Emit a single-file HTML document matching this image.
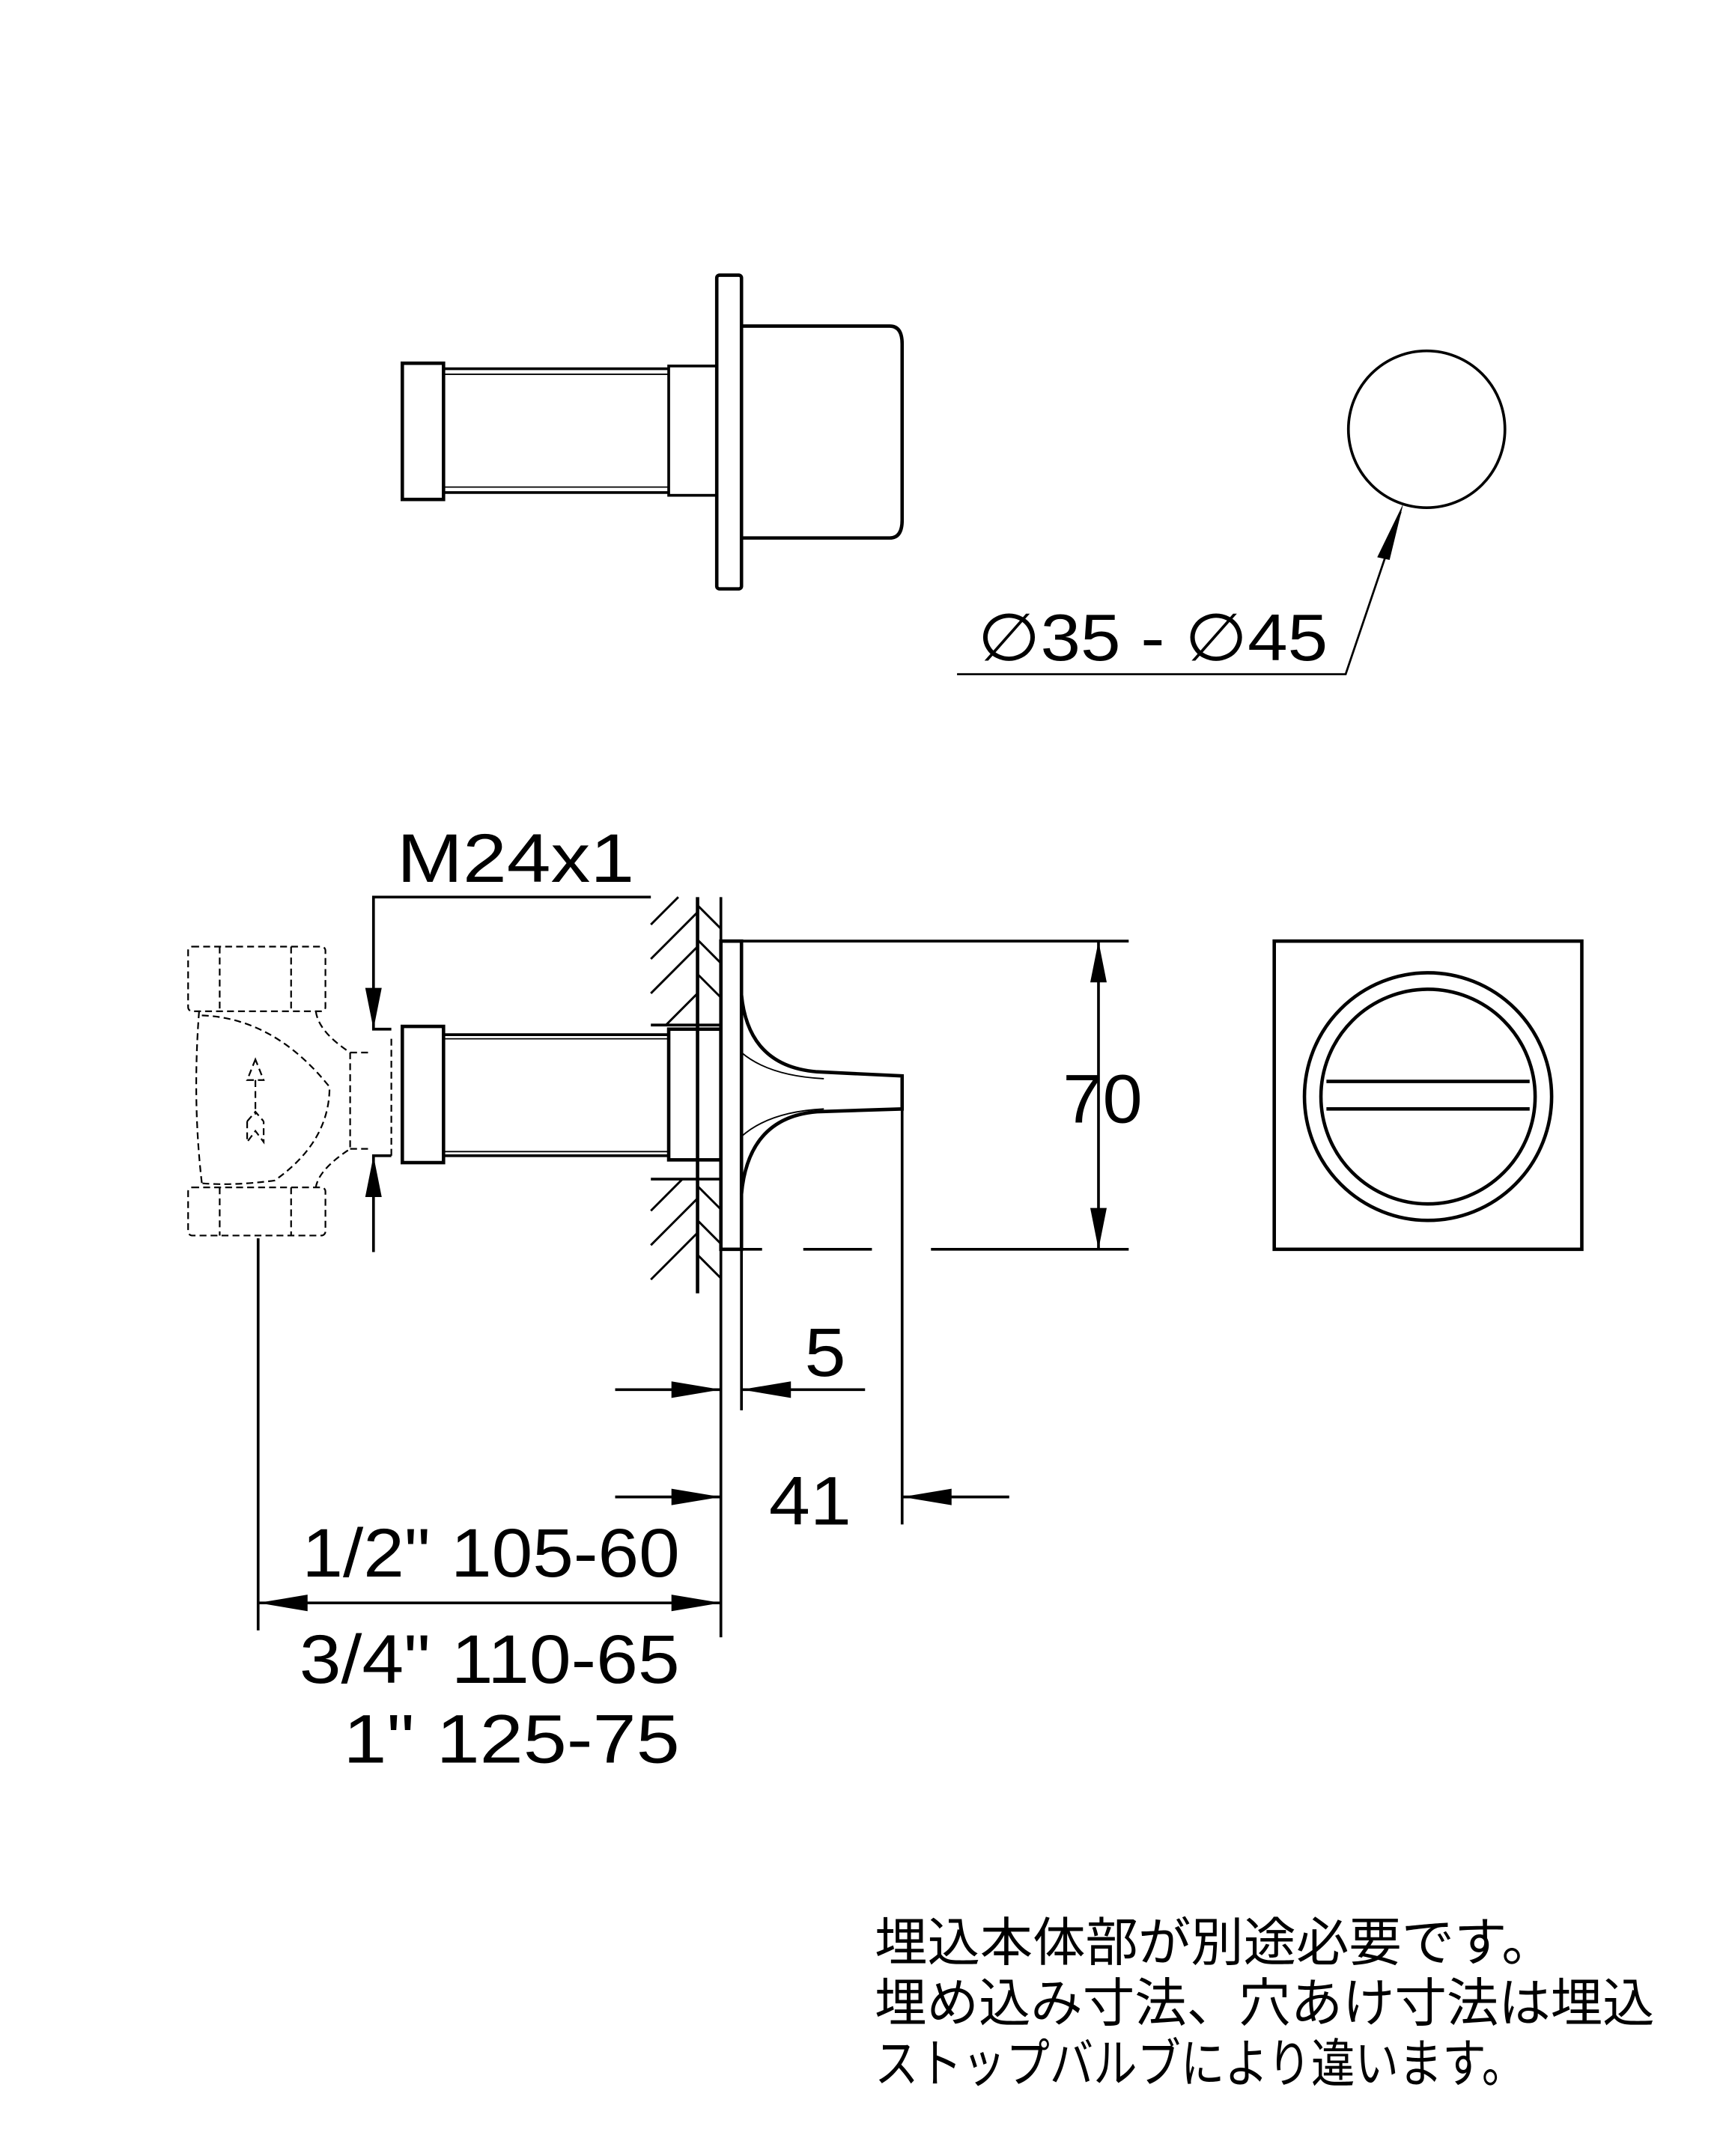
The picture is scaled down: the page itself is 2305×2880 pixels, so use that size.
<!DOCTYPE html>
<html><head><meta charset="utf-8"><style>html,body{margin:0;padding:0;background:#fff}svg{display:block}</style></head>
<body>
<svg width="2305" height="2880" viewBox="0 0 1257 1567" preserveAspectRatio="none" xmlns="http://www.w3.org/2000/svg" font-family="Liberation Sans, sans-serif">
<g fill="none" stroke="#000" stroke-width="2">
<rect x="293" y="264" width="30" height="99" stroke-width="2.5"/>
<line x1="323" y1="268" x2="487" y2="268"/><line x1="323" y1="272" x2="487" y2="272" stroke-width="1"/>
<line x1="323" y1="358" x2="487" y2="358"/><line x1="323" y1="354" x2="487" y2="354" stroke-width="1"/>
<rect x="487" y="266" width="35" height="94"/>
<rect x="522" y="200" width="18" height="228" rx="2" stroke-width="2.5"/>
<path d="M540 237 H648 Q657 237 657 250 V378 Q657 391 648 391 H540" stroke-width="2.5"/>
<circle cx="1039" cy="312" r="57"/>
<polyline points="1020,372 980,490 697,490" stroke-width="1.5"/>
</g>
<polygon points="1022,366 1003,405 1012,407" fill="#000"/>
<text x="712" y="480" font-size="48" textLength="255" lengthAdjust="spacingAndGlyphs">∅35 - ∅45</text>

<text x="289" y="641" font-size="50" textLength="173" lengthAdjust="spacingAndGlyphs">M24x1</text>
<g fill="none" stroke="#000" stroke-width="2">
<polyline points="474,652 272,652 272,748 285,748"/>
<polyline points="272,910 272,840 285,840"/>
<line x1="508" y1="652" x2="508" y2="940" stroke-width="2.5"/>
<line x1="525" y1="652" x2="525" y2="1190"/>
<line x1="474" y1="745" x2="525" y2="745"/>
<line x1="474" y1="857" x2="525" y2="857"/>
<g stroke-width="1.6">
<line x1="474" y1="672" x2="494" y2="652"/><line x1="474" y1="697" x2="508" y2="663"/><line x1="474" y1="722" x2="508" y2="688"/><line x1="485" y1="745" x2="508" y2="722"/>
<line x1="508" y1="658" x2="525" y2="675"/><line x1="508" y1="683" x2="525" y2="700"/><line x1="508" y1="708" x2="525" y2="725"/>
<line x1="474" y1="880" x2="497" y2="857"/><line x1="474" y1="905" x2="508" y2="871"/><line x1="474" y1="930" x2="508" y2="896"/>
<line x1="508" y1="862" x2="525" y2="879"/><line x1="508" y1="887" x2="525" y2="904"/><line x1="508" y1="912" x2="525" y2="929"/>
</g>
<rect x="525" y="684" width="15" height="224" stroke-width="2.5"/>
<line x1="540" y1="684" x2="822" y2="684"/>
<path d="M540 908 H555 M585 908 H635 M678 908 H822"/>
<path d="M540 723 Q545 775 595 779 L657 782 V806 L595 808 Q545 812 540 868" stroke-width="2.5"/>
<path d="M540 765 Q560 782 600 784 M540 826 Q560 808 600 806" stroke-width="1"/>
<rect x="293" y="746" width="30" height="99" stroke-width="2.5"/>
<line x1="323" y1="752" x2="487" y2="752"/><line x1="323" y1="755" x2="487" y2="755" stroke-width="1"/>
<line x1="323" y1="840" x2="487" y2="840"/><line x1="323" y1="837" x2="487" y2="837" stroke-width="1"/>
<rect x="487" y="748" width="38" height="95" stroke-width="2.5"/>
<g stroke-width="1.2" stroke-dasharray="5,3">
<rect x="137" y="688" width="100" height="47" rx="3"/>
<line x1="160" y1="688" x2="160" y2="735"/><line x1="212" y1="688" x2="212" y2="735"/>
<rect x="137" y="863" width="100" height="35" rx="3"/>
<line x1="160" y1="863" x2="160" y2="898"/><line x1="212" y1="863" x2="212" y2="898"/>
<path d="M145 735 Q140 800 147 860 M230 735 Q232 750 255 765 L255 835 Q232 850 230 863"/>
<path d="M147 738 Q200 740 240 790 Q240 830 200 858 Q170 862 147 860"/>
<line x1="255" y1="765" x2="270" y2="765"/><line x1="255" y1="835" x2="270" y2="835"/>
<line x1="285" y1="755" x2="285" y2="840"/>
<path d="M186 770 L180 785 L192 785 Z M186 785 V810 M180 815 L186 808 L192 815 M180 815 V830 L186 822 L192 830 V815"/>
</g>
<line x1="800" y1="684" x2="800" y2="908"/>
<line x1="540" y1="908" x2="540" y2="1025"/>
<line x1="657" y1="806" x2="657" y2="1108"/>
<line x1="448" y1="1010" x2="525" y2="1010"/><line x1="540" y1="1010" x2="630" y2="1010"/>
<line x1="448" y1="1088" x2="525" y2="1088"/><line x1="657" y1="1088" x2="735" y2="1088"/>
<line x1="188" y1="900" x2="188" y2="1185"/>
<line x1="188" y1="1165" x2="525" y2="1165"/>
<rect x="928" y="684" width="224" height="224" stroke-width="2.5"/>
<circle cx="1040" cy="797" r="90" stroke-width="2.5"/>
<circle cx="1040" cy="797" r="78" stroke-width="2.5"/>
<path d="M966 786 H1114 M966 806 H1114" stroke-width="2.5"/>
</g>
<g fill="#000">
<polygon points="272,748 266,718 278,718"/>
<polygon points="272,840 266,870 278,870"/>
<polygon points="800,684 794,714 806,714"/>
<polygon points="800,908 794,878 806,878"/>
<polygon points="525,1010 489,1004 489,1016"/>
<polygon points="540,1010 576,1004 576,1016"/>
<polygon points="525,1088 489,1082 489,1094"/>
<polygon points="657,1088 693,1082 693,1094"/>
<polygon points="188,1165 224,1159 224,1171"/>
<polygon points="525,1165 489,1159 489,1171"/>
</g>
<g font-size="50">
<text x="774" y="816" textLength="58" lengthAdjust="spacingAndGlyphs">70</text>
<text x="586" y="1000" textLength="30" lengthAdjust="spacingAndGlyphs">5</text>
<text x="560" y="1108" textLength="60" lengthAdjust="spacingAndGlyphs">41</text>
<text x="220" y="1146" textLength="275" lengthAdjust="spacingAndGlyphs">1/2"  105-60</text>
<text x="218" y="1223" textLength="277" lengthAdjust="spacingAndGlyphs">3/4"  110-65</text>
<text x="250" y="1281" textLength="245" lengthAdjust="spacingAndGlyphs">1"    125-75</text>
</g>
<g font-family="Liberation Sans, Noto Sans CJK JP, sans-serif" font-size="38">
<text x="637" y="1425" textLength="495" lengthAdjust="spacingAndGlyphs">埋込本体部が別途必要です。</text>
<text x="637" y="1469" textLength="568" lengthAdjust="spacingAndGlyphs">埋め込み寸法、穴あけ寸法は埋込</text>
<text x="637" y="1513" textLength="474" lengthAdjust="spacingAndGlyphs">ストップバルブにより違います。</text>
</g>
</svg>
</body></html>
